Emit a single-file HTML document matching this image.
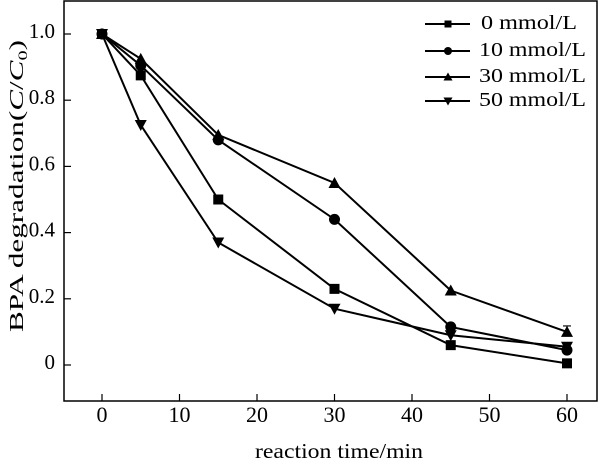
<!DOCTYPE html>
<html><head><meta charset="utf-8">
<style>
html,body{margin:0;padding:0;background:#fff;}
svg{display:block;font-family:"Liberation Serif",serif;}
</style></head>
<body>
<svg id="chart" width="601" height="463" viewBox="0 0 601 463" xmlns="http://www.w3.org/2000/svg">
<rect x="64" y="1" width="533" height="400" fill="none" stroke="#000" stroke-width="1.5"/>
<g id="axes"></g>
<g id="series"></g>
<text x="255" y="458" font-size="21" textLength="168" lengthAdjust="spacingAndGlyphs">reaction time/min</text>
<text transform="translate(23,332) rotate(-90)" font-size="20" textLength="292" lengthAdjust="spacingAndGlyphs">BPA degradation(<tspan font-style="italic">C</tspan>/<tspan font-style="italic">C</tspan><tspan font-size="13" dy="4">0</tspan><tspan dy="-4">)</tspan></text>
<g id="legend"></g>
</svg>
<script>
const times = [0, 5, 15, 30, 45, 60];
const seriesNames = ["0 mmol/L", "10 mmol/L", "30 mmol/L", "50 mmol/L"];
const s0 = [1.0, 0.875, 0.50, 0.23, 0.06, 0.005];
const s10 = [1.0, 0.905, 0.68, 0.44, 0.115, 0.045];
const s30 = [1.0, 0.925, 0.695, 0.55, 0.225, 0.10];
const s50 = [1.0, 0.725, 0.37, 0.17, 0.09, 0.055];
const err30 = [0, 0, 0, 0, 0, 0.018];
const err50 = [0, 0, 0, 0, 0, 0.012];
const xTicks = [0, 10, 20, 30, 40, 50, 60];
const yTicks = [0, 0.2, 0.4, 0.6, 0.8, 1.0];
const yTickLabels = ["0", "0.2", "0.4", "0.6", "0.8", "1.0"];

const NS = "http://www.w3.org/2000/svg";
function xs(v){ return 102 + v * 7.75; }
function ys(v){ return 365 - v * 331; }
function mk(tag, attrs, parent){
  const e = document.createElementNS(NS, tag);
  for (const k in attrs) e.setAttribute(k, attrs[k]);
  parent.appendChild(e);
  return e;
}
const axes = document.getElementById('axes');
xTicks.forEach(t => {
  const l = mk('line', {x1: xs(t), x2: xs(t), y1: 401, y2: 394, stroke: '#000', 'stroke-width': 1.2}, axes);
  
  
  const tx = mk('text', {x: xs(t), y: 422, 'font-size': 22, 'text-anchor': 'middle'}, axes);
  tx.textContent = t;
  
  
});
yTicks.forEach((t, i) => {
  const l = mk('line', {x1: 64, x2: 71, y1: ys(t), y2: ys(t), stroke: '#000', 'stroke-width': 1.2}, axes);
  
  
  const tx = mk('text', {x: 55, y: ys(t) + 4, 'font-size': 21, 'text-anchor': 'end'}, axes);
  tx.textContent = yTickLabels[i];
  
  
});

function marker(type, cx, cy, parent, r){
  r = r || 5;
  if (type === 'square') return mk('rect', {x: cx - r, y: cy - r, width: 2 * r, height: 2 * r, fill: '#000'}, parent);
  if (type === 'circle') return mk('circle', {cx: cx, cy: cy, r: r + 0.5, fill: '#000'}, parent);
  if (type === 'up') return mk('polygon', {points: `${cx},${cy - r - 1} ${cx - r - 1},${cy + r} ${cx + r + 1},${cy + r}`, fill: '#000'}, parent);
  return mk('polygon', {points: `${cx},${cy + r + 1} ${cx - r - 1},${cy - r} ${cx + r + 1},${cy - r}`, fill: '#000'}, parent);
}

const seriesData = [s0, s10, s30, s50];
const errs = [null, null, err30, err50];
const markers = ['square', 'circle', 'up', 'down'];
const sg = document.getElementById('series');
seriesData.forEach((d, si) => {
  const g = mk('g', {}, sg);
  
  
  const pts = d.map((v, i) => xs(times[i]) + ',' + ys(v)).join(' ');
  const pl = mk('polyline', {points: pts, fill: 'none', stroke: '#000', 'stroke-width': 2}, g);
  
  
  d.forEach((v, i) => {
    if (errs[si] && errs[si][i] > 0) {
      const e = errs[si][i];
      const eb = mk('path', {d: `M${xs(times[i])},${ys(v + e)}V${ys(v)}M${xs(times[i]) - 4},${ys(v + e)}H${xs(times[i]) + 4}`, stroke: '#000', 'stroke-width': 1.2, fill: 'none'}, g);
      
      
    }
    const m = marker(markers[si], xs(times[i]), ys(v), g);
    
    
  });
});

const lg = document.getElementById('legend');


const legY = [24, 51, 77, 101];
const legW = [96, 107, 107, 107];
const legX = [481, 479, 479, 479];
seriesNames.forEach((n, i) => {
  const g = mk('g', {}, lg);
  
  
  mk('line', {x1: 425, x2: 470, y1: legY[i], y2: legY[i], stroke: '#000', 'stroke-width': 2}, g);
  marker(markers[i], 448, legY[i], g, 3.5);
  const t = mk('text', {x: legX[i], y: legY[i] + 5, 'font-size': 20, textLength: legW[i], lengthAdjust: 'spacingAndGlyphs'}, g);
  t.textContent = n;
});
</script>
</body></html>
